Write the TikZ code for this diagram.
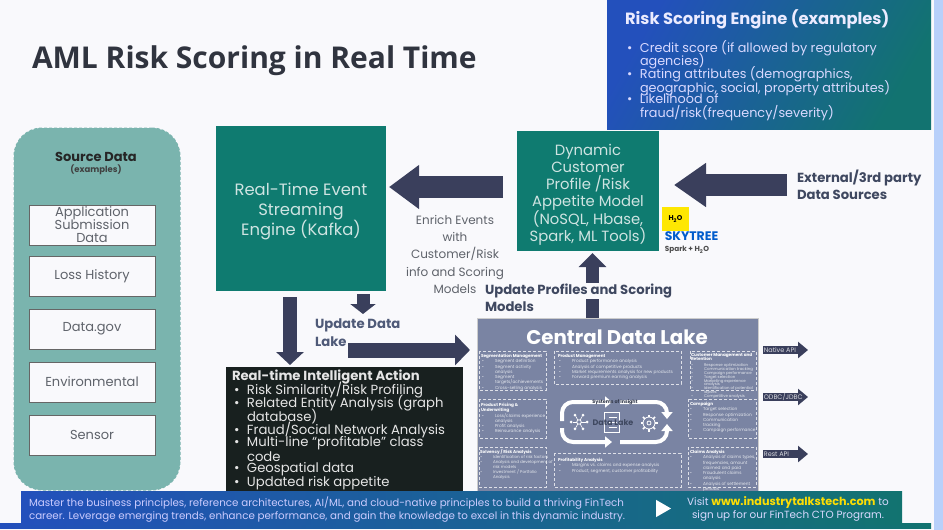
\documentclass[tikz,border=0pt]{standalone}
\usepackage{fontspec}
\setmainfont{Poppins}
\newfontfamily\titlefont{Open Sans}
\usetikzlibrary{arrows.meta,positioning,calc,shapes.geometric}
\normallineskiplimit=-30pt
\lineskiplimit=-30pt
\definecolor{pagebg}{HTML}{F9F9FC}
\definecolor{sidestrip}{HTML}{B8D0FA}
\definecolor{navyarrow}{HTML}{3A3F5C}
\definecolor{tealbox}{HTML}{0F7B70}
\definecolor{panelteal}{HTML}{7AB4AE}
\definecolor{lakeblue}{HTML}{7A84A3}
\definecolor{actiondark}{HTML}{18201F}
\definecolor{bannerblue}{HTML}{2350BC}
\definecolor{bannerteal}{HTML}{127370}
\definecolor{labelgray}{HTML}{5F636B}
\definecolor{slatetext}{HTML}{4F5A78}
\definecolor{titlegray}{HTML}{30343F}
\newcommand{\bulletmark}{\llap{•\hspace{7.5pt}}}
\newcommand{\lakemark}{\llap{•\hspace{11pt}}}
\begin{document}
\begin{tikzpicture}[
  x=1pt, y=-1pt,
  every node/.style={inner sep=0pt, outer sep=0pt},
  srcbox/.style={draw=gray!80!black, line width=0.8pt, fill=pagebg, minimum width=126pt, minimum height=40pt,
    font=\fontsize{13}{13}\selectfont, text=labelgray, align=center},
  tealnode/.style={fill=tealbox},
  tealtext/.style={align=center, text=white!80!tealbox},
  bigarrow/.style={draw=navyarrow, line width=#1},
  lakepanel/.style={draw=white!75!lakeblue, densely dashed, line width=0.5pt},
  paneltitle/.style={font=\bfseries\fontsize{4.2}{4.8}\selectfont, text=white, align=left, anchor=north west},
  paneltext/.style={font=\fontsize{4.3}{5.3}\selectfont, text=white!80!lakeblue, align=left, anchor=north west},
  apilabel/.style={font=\fontsize{6.5}{7}\selectfont, text=white!80!navyarrow, fill=navyarrow, anchor=west, inner sep=0.8pt},
  actiontext/.style={font=\fontsize{13.2}{13}\selectfont, text=white!90!black, align=left, anchor=west},
  risktext/.style={font=\fontsize{12.8}{13.4}\selectfont, text=white!85!blue, align=left, anchor=north west},
  boldnote/.style={font=\bfseries\fontsize{13.2}{17}\selectfont, align=left, anchor=north west},
  cyclearrow/.style={draw=white, line width=4pt, rounded corners=11pt, -{Triangle[length=7pt,width=11pt]}},
]
\useasboundingbox (0,0) rectangle (943,530);

% ---- Page background ----
\fill[pagebg] (0,0) rectangle (943,530);
\fill[sidestrip] (934,0) rectangle (943,530);

% ---- Title ----
\node[anchor=west, font=\titlefont\bfseries\fontsize{30}{32}\selectfont, text=titlegray] (title) at (32,61) {AML Risk Scoring in Real Time};

% ---- Risk Scoring Engine panel ----
\node[minimum width=324pt, minimum height=129pt, anchor=north west,
  left color=bannerblue, right color=bannerteal, shading angle=60] (riskpanel) at (607,0) {};
\node[anchor=west, font=\bfseries\fontsize{16.3}{18}\selectfont, text=white!92!blue] (risktitle) at (625,19) {Risk Scoring Engine (examples)};
\foreach \name/\y/\txt in {
  a/40.5/{Credit score (if allowed by regulatory\\agencies)},
  b/67/{Rating attributes (demographics,\\geographic, social, property attributes)},
  c/94/{Likelihood of\\fraud/risk(frequency/severity)}} {
  \node[risktext] (risk\name) at (640,\y) {\bulletmark\txt};
}

% ---- Source Data panel ----
\node[draw=panelteal, fill=panelteal, densely dashed, line width=1pt, rounded corners=28pt, minimum width=166pt, minimum height=362pt, anchor=north west] (sourcepanel) at (14,128) {};
\node[font=\bfseries\fontsize{13}{14}\selectfont, text=black!85] (sourcetitle) at (96,157) {Source Data};
\node[font=\bfseries\fontsize{8.5}{9}\selectfont, text=black!75] (sourcesub) at (96,169.5) {(examples)};
\foreach \name/\y/\txt in {loss/276/Loss History, gov/329/Data.gov, env/382/Environmental, sensor/435/Sensor} {
  \node[srcbox] (\name) at (92,\y) {\txt};
}
\node[srcbox] (appdata) at (92,225) {Application\\Submission\\Data};

% ---- Main boxes ----
\node[tealnode, minimum width=170pt, minimum height=165pt] (kafka) at (301,208.5) {};
\node[tealtext, font=\fontsize{16.4}{20}\selectfont] (kafkatxt) at (301,211)
  {Real-Time Event\\Streaming\\Engine (Kafka)};
\node[tealnode, minimum width=142pt, minimum height=120pt] (profile) at (588,191) {};
\node[tealtext, font=\fontsize{14.8}{17.2}\selectfont] (profiletxt) at (588,194.5)
  {Dynamic\\Customer\\Profile /Risk\\Appetite Model\\(NoSQL, Hbase,\\Spark, ML Tools)};
\node[minimum width=237pt, minimum height=124pt, anchor=north west, fill=actiondark] (action) at (226,367) {};
\node[actiontext, font=\bfseries\fontsize{13.2}{13}\selectfont] (actiontitle) at (232,377) {Real-time Intelligent Action};
\foreach \name/\y/\txt in {
  r/390.5/{Risk Similarity/Risk Profiling},
  e/403.5/{Related Entity Analysis (graph},
  f/430/{Fraud/Social Network Analysis},
  m/443.5/{Multi-line “profitable” class},
  g/469.5/{Geospatial data},
  u/483/{Updated risk appetite}} {
  \node[actiontext] (act\name) at (247,\y) {\bulletmark\txt};
}
\node[actiontext] (actdb) at (247,416.5) {database)};
\node[actiontext] (actcode) at (247,456.5) {code};

% ---- Central Data Lake ----
\node[minimum width=281pt, minimum height=173pt, anchor=north west, fill=lakeblue, draw=gray!40, line width=0.5pt] (lake) at (477,318) {};
\node[font=\bfseries\fontsize{19.8}{22}\selectfont, text=white] (laketitle) at (617,337) {Central Data Lake};
\foreach \name/\xa/\ya/\xb/\yb in {
  seg/479/351/546/390, prod/554/351/681/384, cust/690/351/756/390,
  price/479/399/546/438, camp/688/399/756/438,
  solv/479/447/546/487, prof/554/453/681/487, claim/688/447/756/487} {
  \draw[lakepanel] (\xa,\ya) rectangle (\xb,\yb);
}
\node[paneltitle] (segt) at (481,354) {Segmentation Management};
\node[paneltext] (segx) at (495,359.5) {\lakemark Segment definition\\\lakemark Segment activity\\analysis\\\lakemark Segment\\targets/achievements\\\lakemark Cross-selling analysis};
\node[paneltitle] (prodt) at (558,354) {Product Management};
\node[paneltext] (prodx) at (572,359.5) {\lakemark Product performance analysis\\\lakemark Analysis of competitive products\\\lakemark Market requirements analysis for new products\\\lakemark Forward premium earning analysis};
\node[paneltitle] (custt) at (691,353) {Customer Management and\\Retention};
\node[paneltext, font=\fontsize{3.9}{3.9}\selectfont] (custx) at (704,363.5) {\lakemark Response optimization\\\lakemark Communication tracking\\\lakemark Campaign performance\\\lakemark Target selection\\\lakemark Marketing experience\\analysis\\\lakemark Identification of potential\\lapses\\\lakemark Competitive analysis};
\node[paneltitle] (pricet) at (481,403) {Product Pricing \&\\Underwriting};
\node[paneltext] (pricex) at (495,413) {\lakemark Loss/claims experience\\analysis\\\lakemark Profit analysis\\\lakemark Reinsurance analysis};
\node[paneltitle] (campt) at (690,402) {Campaign};
\node[paneltext] (campx) at (703,407.5) {\lakemark Target selection\\\lakemark Response optimization\\\lakemark Communication\\tracking\\\lakemark Campaign performance};
\node[paneltitle] (solvt) at (480,450) {Solvency / Risk Analysis};
\node[paneltext, font=\fontsize{4.1}{4.9}\selectfont] (solvx) at (493,455.5) {\lakemark Identification of risk factors\\\lakemark Analysis and development of\\risk models\\\lakemark Investment / Portfolio\\Analysis};
\node[paneltitle] (proft) at (558,458) {Profitability Analysis};
\node[paneltext] (profx) at (572,463.5) {\lakemark Margins vs. claims and expense analysis\\\lakemark Product, segment, customer profitability};
\node[paneltitle] (claimt) at (690,450) {Claims Analysis};
\node[paneltext] (claimx) at (703,455.5) {\lakemark Analysis of claims types,\\frequencies, amount\\claimed and paid\\\lakemark Fraudulent claims\\analysis\\\lakemark Analysis of settlement\\periods};

% ---- Data lake cycle ----
\coordinate (cyclea) at (562,421);
\coordinate (cycleb) at (612,402);
\coordinate (cyclec) at (620,402);
\coordinate (cycled) at (667,419);
\coordinate (cyclee) at (562,428);
\coordinate (cyclef) at (612,442);
\coordinate (cycleg) at (620,442);
\coordinate (cycleh) at (667,424);
\draw[cyclearrow] (cyclea) |- (cycleb);
\draw[cyclearrow] (cyclec) -| (cycled);
\draw[cyclearrow] (cyclee) |- (cyclef);
\draw[cyclearrow] (cycleg) -| (cycleh);
% network icon
\node[circle, draw=white, line width=0.8pt, minimum size=4.5pt] (nethub) at (579,422) {};
\foreach \a in {0,60,...,300} {
  \node[circle, fill=white, minimum size=3pt] (net\a) at ($(nethub)+(\a:8pt)$) {};
  \draw[white, line width=0.6pt] (nethub) -- (net\a);
}
% document icon
\node[draw=white, line width=0.9pt, minimum width=15pt, minimum height=20pt] (docicon) at (612,422) {};
\foreach \y in {-5,0,5} {
  \coordinate (docl) at ($(docicon.center)+(-3,\y)$);
  \coordinate (docr) at ($(docicon.center)+(5,\y)$);
  \draw[white, line width=0.7pt] (docl) -- (docr);
}
% gear icon
\node[circle, draw=white, line width=0.8pt, minimum size=12pt] (gearicon) at (649,423) {};
\node[circle, draw=white, line width=0.8pt, minimum size=4pt] (gearhub) at (649,423) {};
\foreach \a in {0,45,...,315} {
  \coordinate (gearin) at ($(gearicon)+(\a:6pt)$);
  \coordinate (gearout) at ($(gearicon)+(\a:8.5pt)$);
  \draw[white, line width=1.6pt] (gearin) -- (gearout);
}
\node[font=\bfseries\fontsize{8}{9}\selectfont, text=slatetext!80!black] (laketxt) at (613,423) {Data Lake};
\node[font=\bfseries\fontsize{4.8}{5}\selectfont, text=slatetext!60!black] (insighttxt) at (615,402) {Systems of Insight};

% ---- Arrows ----
\coordinate (extfrom) at (787,185);
\coordinate (extto) at (674,185);
\coordinate (enrichfrom) at (503,187);
\coordinate (enrichto) at (389,187);
\coordinate (upfrom) at (592.5,318);
\coordinate (upto) at (592.5,253);
\coordinate (actfrom) at (290,297);
\coordinate (actto) at (290,365);
\coordinate (dlfrom) at (363,294);
\coordinate (dlto) at (363,314);
\coordinate (lakefrom) at (348,350);
\coordinate (laketo) at (470,350);
\draw[bigarrow=22pt, -{Triangle[length=30pt,width=42pt]}] (enrichfrom) -- (enrichto);
\draw[bigarrow=22pt, -{Triangle[length=32pt,width=42pt]}] (extfrom) -- (extto);
\draw[bigarrow=13pt, -{Triangle[length=14pt,width=27pt]}] (upfrom) -- (upto);
\draw[bigarrow=14pt, -{Triangle[length=13pt,width=27pt]}] (actfrom) -- (actto);
\draw[bigarrow=13pt, -{Triangle[length=10pt,width=25pt]}] (dlfrom) -- (dlto);
\draw[bigarrow=15pt, -{Triangle[length=15pt,width=30pt]}] (lakefrom) -- (laketo);

% ---- API arrows ----
\foreach \name/\y/\txt in {native/350/{Native API}, odbc/397/{ODBC/JDBC}, rest/454/{Rest API}} {
  \coordinate (\name from) at (763,\y);
  \coordinate (\name to) at (808,\y);
  \draw[bigarrow=8pt, -{Triangle[length=10pt,width=16pt]}] (\name from) -- (\name to);
  \node[apilabel] (\name) at (\name from) {\txt};
}

% ---- Notes ----
\node[font=\fontsize{12}{17.3}\selectfont, text=labelgray, align=center, anchor=north] (enrich) at (455,215)
  {Enrich Events\\with\\Customer/Risk\\info and Scoring\\Models};
\node[boldnote, text=slatetext, font=\bfseries\fontsize{13.2}{18}\selectfont] (updlake) at (315,319) {Update Data\\Lake};
\node[anchor=west, font=\bfseries\fontsize{13.2}{14}\selectfont, text=slatetext!80!black, fill=pagebg, minimum height=16pt] (updprof) at (485,291) {Update Profiles and Scoring};
\node[anchor=west, font=\bfseries\fontsize{13.2}{14}\selectfont, text=slatetext!80!black] (updmodels) at (485,307) {Models};
\node[boldnote, text=slatetext!80!black] (external) at (797,170) {External/3rd party\\Data Sources};

% ---- Logos ----
\node[fill=yellow!90!orange, minimum width=27pt, minimum height=24pt, font=\bfseries\fontsize{7}{8}\selectfont, text=black] (hwologo) at (675.5,219) {H$_{\mathbf 2}$O\hspace{6pt}};
\node[font=\bfseries\fontsize{12.4}{13}\selectfont, text=blue!55!cyan!80!black] (skytree) at (691.5,236.5) {SKYTREE};
\node[font=\bfseries\fontsize{7.3}{8}\selectfont, text=black!70] (sparkh) at (687,250) {Spark + H$_{\mathbf 2}$O};

% ---- Banner ----
\fill[left color=bannerblue, right color=bannerteal] (0,523) rectangle (931,528);
\node[minimum width=881pt, minimum height=33pt, anchor=north west, left color=bannerblue, right color=bannerteal] (banner) at (21,491) {};
\node[anchor=north west, font=\fontsize{10.3}{13}\selectfont, text=white!80!blue, align=left] (bannertext) at (29,497)
  {Master the business principles, reference architectures, AI/ML, and cloud-native principles to build a thriving FinTech\\career. Leverage emerging trends, enhance performance, and gain the knowledge to excel in this dynamic industry.};
\node[regular polygon, regular polygon sides=3, shape border rotate=-90, fill=white, minimum size=20pt] (playicon) at (661,508.5) {};
\node[anchor=north, font=\fontsize{10.4}{13}\selectfont, text=white!85!blue, align=center] (visit) at (788,497)
  {Visit {\bfseries\fontsize{11.2}{13}\selectfont\color{yellow!80!orange}www.industrytalkstech.com} to\\sign up for our FinTech CTO Program.};
\end{tikzpicture}
\end{document}
